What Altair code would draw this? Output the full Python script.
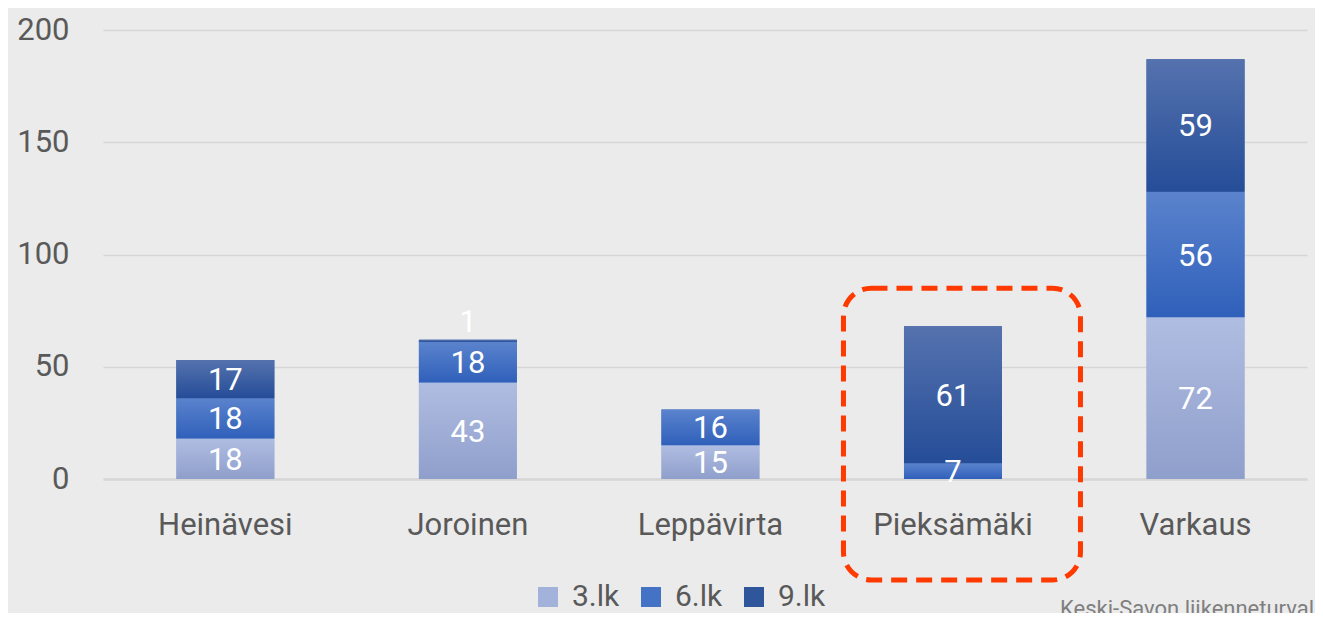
import altair as alt
import pandas as pd

municipalities = ["Heinävesi", "Joroinen", "Leppävirta", "Pieksämäki", "Varkaus"]
series_names = ["3.lk", "6.lk", "9.lk"]
vals_3lk = [18, 43, 15, 0, 72]
vals_6lk = [18, 18, 16, 7, 56]
vals_9lk = [17, 1, 0, 61, 59]
y_ticks = [0, 50, 100, 150, 200]
highlight = "Pieksämäki"
highlight_top = 85
highlight_bottom = -45
source_text = "Keski-Savon liikenneturvallisuussuunnitelma"

solid = ["#A3B2DA", "#4472C4", "#2F559B"]
grad_top = ["#B0BDE2", "#5B83CD", "#5572AE"]
grad_bot = ["#8F9FCB", "#2F60BA", "#254D98"]

rows = []
for s_i, (s, vals) in enumerate(zip(series_names, [vals_3lk, vals_6lk, vals_9lk])):
    for m, v in zip(municipalities, vals):
        rows.append({"kunta": m, "luokka": s, "ord": s_i, "arvo": v})
df = pd.DataFrame(rows)

FONT = "Roboto"
TXT = "#595959"

x_enc = alt.X("kunta:N", sort=municipalities, title=None,
              scale=alt.Scale(paddingInner=0.596, paddingOuter=0.28, align=0.54),
              axis=alt.Axis(labelFontSize=31, labelColor=TXT, labelFont=FONT,
                            labelPadding=31, ticks=False, domainColor="#D6D6D6",
                            domainWidth=2.5, labelAngle=0, grid=False))
y_scale = alt.Scale(domain=[0, 200], nice=False, zero=False)

base = alt.Chart(df).transform_stack(
    stack="arvo", groupby=["kunta"], as_=["y0", "y1"],
    sort=[alt.SortField("ord", order="ascending")]
)

legend_bars = base.mark_bar().encode(
    x=x_enc,
    y=alt.Y("y1:Q", scale=y_scale, title=None,
            axis=alt.Axis(values=y_ticks, labelFontSize=31, labelColor=TXT,
                          labelFont=FONT, labelPadding=34, ticks=False,
                          domain=False, gridColor="#D6D6D6", gridWidth=1.5)),
    y2="y0:Q",
    color=alt.Color("luokka:N", sort=series_names,
                    scale=alt.Scale(domain=series_names, range=solid),
                    legend=alt.Legend(title=None, orient="none", direction="horizontal",
                                      legendX=430, legendY=552, symbolType="square",
                                      symbolSize=400, symbolStrokeWidth=0,
                                      labelFontSize=30, labelColor=TXT, labelFont=FONT,
                                      labelOffset=9, columnPadding=16, padding=0)),
)

grad_layers = []
for s, t, b in zip(series_names, grad_top, grad_bot):
    grad_layers.append(
        base.transform_filter(alt.datum.luokka == s).mark_bar(
            color=alt.Gradient(gradient="linear", x1=0, y1=0, x2=0, y2=1,
                               stops=[alt.GradientStop(color=t, offset=0),
                                      alt.GradientStop(color=b, offset=1)])
        ).encode(x=alt.X("kunta:N", sort=municipalities),
                 y=alt.Y("y1:Q", scale=y_scale), y2="y0:Q")
    )

labels_big = base.transform_filter(alt.datum.arvo >= 3).transform_calculate(
    mid="(datum.y0 + datum.y1) / 2"
).mark_text(color="white", fontSize=31, font=FONT, baseline="middle", dy=2).encode(
    x=alt.X("kunta:N", sort=municipalities),
    y=alt.Y("mid:Q", scale=y_scale),
    text="arvo:Q",
)

labels_small = base.transform_filter(
    (alt.datum.arvo > 0) & (alt.datum.arvo < 3)
).transform_calculate(
    mid="(datum.y0 + datum.y1) / 2"
).mark_text(color="white", fontSize=31, font=FONT, baseline="middle", dy=-18).encode(
    x=alt.X("kunta:N", sort=municipalities),
    y=alt.Y("mid:Q", scale=y_scale),
    text="arvo:Q",
)

hl_df = pd.DataFrame({"kunta": [highlight], "top": [highlight_top], "bottom": [highlight_bottom]})
highlight_box = alt.Chart(hl_df).mark_rect(
    fillOpacity=0, stroke="#FF3A00", strokeWidth=5, strokeDash=[16, 9],
    cornerRadius=28, clip=False, width=237, xOffset=9
).encode(
    x=alt.X("kunta:N", sort=municipalities),
    y=alt.Y("top:Q", scale=y_scale),
    y2="bottom:Q",
)

src_df = pd.DataFrame({"t": [source_text]})
source = alt.Chart(src_df).mark_text(
    align="left", baseline="top", fontSize=22, font=FONT, color="#7F7F7F"
).encode(x=alt.value(957), y=alt.value(569), text="t:N")

chart = alt.layer(legend_bars, *grad_layers, labels_big, labels_small,
                  highlight_box, source).properties(
    width=1204, height=449,
    autosize=alt.AutoSizeParams(type="none"),
    padding={"left": 95, "top": 22, "right": 8, "bottom": 134},
    background="#EBEBEB",
).configure_view(stroke=None)

chart.save("out.html", embed_options={"renderer": "svg", "actions": False})
